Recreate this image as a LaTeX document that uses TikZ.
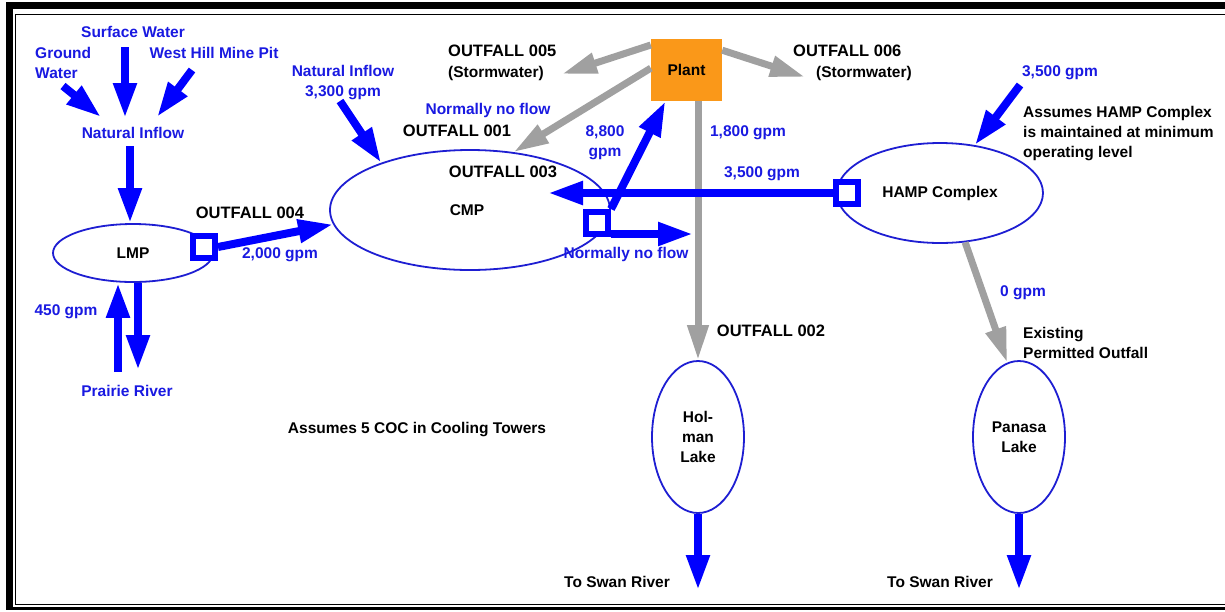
\documentclass[tikz,border=0pt]{standalone}
\usepackage{fontspec}
\setmainfont{Liberation Sans}
\usetikzlibrary{arrows.meta,calc,shapes.geometric}
\definecolor{fblue}{RGB}{0,0,255}
\definecolor{tblue}{RGB}{25,25,225}
\definecolor{eblue}{RGB}{30,30,210}
\definecolor{fgray}{RGB}{160,160,160}
\definecolor{plantor}{RGB}{250,152,25}
\newcommand\mylbl{\fontsize{15.5}{20}\selectfont\bfseries}
\newcommand\myout{\fontsize{16.5}{20}\selectfont\bfseries}
\begin{document}
\begin{tikzpicture}[x=1pt,y=-1pt,
  bflow/.style={draw=fblue, line width=8pt, -{Triangle[length=35pt,width=22pt]}},
  gflow/.style={draw=fgray, line width=7pt, -{Triangle[length=35pt,width=20pt]}},
  pond/.style={ellipse, draw=eblue, line width=1.8pt, inner sep=0pt, font=\mylbl, align=center},
  outbox/.style={draw=fblue, fill=white, line width=6pt, minimum size=22pt, inner sep=0pt},
  bt/.style={text=tblue, font=\mylbl, inner sep=0pt, align=center},
  kt/.style={text=black, font=\mylbl, inner sep=0pt, align=center},
  ko/.style={text=black, font=\myout, inner sep=0pt, align=center}]
\useasboundingbox (0,0) rectangle (1225,611);
% frame
\fill[black] (6,2) rectangle (1225,9);
\fill[black] (6,2) rectangle (13,610);
\fill[black] (6,607) rectangle (1225,610);
\draw[black, line width=1.5pt] (1225,14.5) -- (15.5,14.5) -- (15.5,604.5) -- (1225,604.5);
% ponds
\node[pond, minimum width=280pt, minimum height=120pt] (cmp) at (470,210) {};
\node[kt] (cmpl) at (467,210) {CMP};
\node[pond, minimum width=160pt, minimum height=58pt] (lmp) at (133,253) {LMP};
\node[pond, minimum width=206pt, minimum height=100pt] (hamp) at (940,193) {HAMP Complex};
\node[pond, minimum width=92pt, minimum height=152pt] (holman) at (698,437) {Hol-\\man\\Lake};
\node[pond, minimum width=92pt, minimum height=152pt] (panasa) at (1019,437) {Panasa\\Lake};
\node[fill=plantor, minimum width=71pt, minimum height=62pt, inner sep=0pt, font=\mylbl] (plant) at (686.5,70) {Plant};
% coordinates
\coordinate (swS) at (125,47);  \coordinate (swE) at (125,118);
\coordinate (gwS) at (63,86);   \coordinate (gwE) at (101,117);
\coordinate (whS) at (192,70);  \coordinate (whE) at (157,117);
\coordinate (niS) at (130,146);
\coordinate (ni3S) at (340,101);
\coordinate (prU) at (118,372);
\coordinate (prD) at (138,370);
\coordinate (nnfE) at (693,234);
\coordinate (t3) at (548,193);
\coordinate (h35S) at (1020,85);
\coordinate (hsw) at (698,590);
\coordinate (psw) at (1019,590);
\coordinate (o5t) at (562,74);
\coordinate (o6t) at (805,77);
% squares
\node[outbox] (o4) at (204,247) {};
\node[outbox] (o3) at (597,223) {};
\node[outbox] (oh) at (847,193) {};
% gray flows
\draw[gflow] (plant.145) -- (o5t);
\draw[gflow] (plant.29) -- (o6t);
\draw[gflow] (plant.177) -- (cmp.53);
\draw[gflow] (holman.north |- plant.south) -- (holman.north);
\draw[gflow] (hamp.297) -- (panasa.99);
% blue flows
\draw[bflow] (swS) -- (swE);
\draw[bflow] (gwS) -- (gwE);
\draw[bflow] (whS) -- (whE);
\draw[bflow] (niS) -- (niS |- lmp.north);
\draw[bflow] (ni3S) -- (cmp.152);
\draw[bflow] (o4.east) -- (cmp.186);
\draw[bflow] (prU) -- (prU |- lmp.south);
\draw[bflow] (prD |- lmp.south) -- (prD);
\draw[bflow] (oh.west) -- (t3);
\draw[bflow] (o3.north east) -- (plant.236);
\draw[bflow] (o3.east |- nnfE) -- (nnfE);
\draw[bflow] (h35S) -- (hamp.54);
\draw[bflow] (holman.south) -- (hsw);
\draw[bflow] (panasa.south) -- (psw);
% squares on top
\node[outbox] at (o4) {};
\node[outbox] at (o3) {};
\node[outbox] at (oh) {};
% labels
\node[bt] (sw) at (133,32) {Surface Water};
\node[bt, align=left, anchor=west] (gw) at (35,63) {Ground\\Water};
\node[bt] (wh) at (214,53) {West Hill Mine Pit};
\node[bt] (ni) at (133,133) {Natural Inflow};
\node[bt] (ni3) at (343,82.5) {Natural Inflow\\3,300 gpm};
\node[ko, anchor=west] (o5) at (448,51) {OUTFALL 005};
\node[kt, anchor=west] (o5s) at (448,73) {(Stormwater)};
\node[ko, anchor=west] (o6) at (793,51) {OUTFALL 006};
\node[kt, anchor=west] (o6s) at (816,73) {(Stormwater)};
\node[bt] (nnf1) at (488,110) {Normally no flow};
\node[ko] (o1) at (457,131) {OUTFALL 001};
\node[ko] (o3l) at (503,172) {OUTFALL 003};
\node[bt] (g88) at (605,143) {8,800\\gpm};
\node[bt] (g18) at (748,133) {1,800 gpm};
\node[bt] (g35) at (762,174) {3,500 gpm};
\node[bt] (nnf2) at (626,254) {Normally no flow};
\node[ko] (o4l) at (250,213) {OUTFALL 004};
\node[bt] (g20) at (280,255) {2,000 gpm};
\node[bt] (g45) at (66,312) {450 gpm};
\node[bt] (prl) at (127,391) {Prairie River};
\node[kt] (coc) at (417,430) {Assumes 5 COC in Cooling Towers};
\node[ko] (o2) at (771,331) {OUTFALL 002};
\node[bt] (g35b) at (1060,73) {3,500 gpm};
\node[kt, align=left, anchor=west] (hnote) at (1023,134) {Assumes HAMP Complex\\is maintained at minimum\\operating level};
\node[bt] (g0) at (1023,293) {0 gpm};
\node[kt, align=left, anchor=west] (exist) at (1023,343) {Existing\\Permitted Outfall};
\node[kt] (sw1) at (617,582) {To Swan River};
\node[kt] (sw2) at (940,582) {To Swan River};
\end{tikzpicture}
\end{document}
